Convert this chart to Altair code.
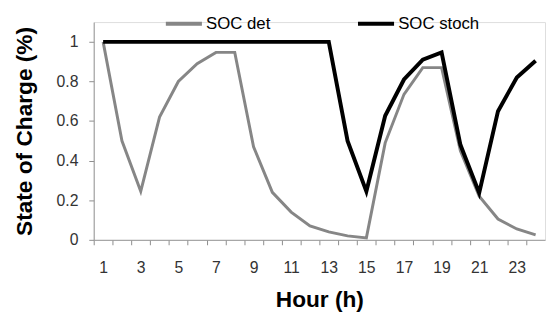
import altair as alt
import pandas as pd

hours = list(range(1, 25))
soc_det = [1.0, 0.50, 0.245, 0.62, 0.80, 0.89, 0.947, 0.947, 0.47, 0.24,
           0.14, 0.07, 0.04, 0.02, 0.01, 0.49, 0.735, 0.87, 0.87, 0.45,
           0.22, 0.105, 0.055, 0.025]
soc_stoch = [1.0, 1.0, 1.0, 1.0, 1.0, 1.0, 1.0, 1.0, 1.0, 1.0,
             1.0, 1.0, 1.0, 0.50, 0.245, 0.627, 0.81, 0.91, 0.947, 0.48,
             0.237, 0.65, 0.82, 0.905]
series_names = ["SOC det", "SOC stoch"]
series_colors = ["#868686", "#000000"]
x_label_values = list(range(1, 25))
y_ticks = [0, 0.2, 0.4, 0.6, 0.8, 1.0]

df = pd.DataFrame({
    "hour": hours * 2,
    "soc": soc_det + soc_stoch,
    "series": [series_names[0]] * 24 + [series_names[1]] * 24,
})

FONT = "Liberation Sans"

x_enc = alt.X(
    "hour:Q",
    scale=alt.Scale(domain=[0.5, 24.5], nice=False, zero=False),
    axis=alt.Axis(
        values=x_label_values,
        labelExpr="datum.value % 2 == 1 ? datum.label : ''",
        tickOffset=-9.54,
        labelOffset=9.54,
        tickSize=5,
        tickColor="#8c8c8c",
        domainColor="#999999",
        labelFontSize=16,
        labelColor="#333333",
        labelPadding=15,
        labelFont=FONT,
        title="Hour (h)",
        titleFont=FONT,
        titleFontSize=23,
        titleFontWeight="bold",
        titleColor="#000000",
        titlePadding=14,
        grid=False,
    ),
)
y_enc = alt.Y(
    "soc:Q",
    scale=alt.Scale(domain=[0, 1.1], nice=False),
    axis=alt.Axis(
        values=y_ticks,
        format="~g",
        tickSize=5,
        tickColor="#8c8c8c",
        domainColor="#999999",
        labelFontSize=16,
        labelColor="#333333",
        labelPadding=11,
        labelFont=FONT,
        title="State of Charge (%)",
        titleFont=FONT,
        titleFontSize=23,
        titleFontWeight="bold",
        titleColor="#000000",
        titlePadding=20,
        grid=False,
    ),
)
color_enc = alt.Color(
    "series:N",
    scale=alt.Scale(domain=series_names, range=series_colors),
    legend=alt.Legend(
        title=None,
        orient="none",
        direction="horizontal",
        legendX=71,
        legendY=-19,
        symbolType="stroke",
        symbolSize=1340,
        symbolStrokeWidth=4,
        labelFont=FONT,
        labelFontSize=17,
        labelColor="#000000",
        labelOffset=2,
        columnPadding=80,
    ),
)

base = alt.Chart(df).encode(x=x_enc, y=y_enc, color=color_enc)
det = base.transform_filter(alt.datum.series == series_names[0]).mark_line(strokeWidth=3)
stoch = base.transform_filter(alt.datum.series == series_names[1]).mark_line(strokeWidth=4)

chart = (
    alt.layer(det, stoch)
    .properties(
        width=458,
        height=221,
        autosize=alt.AutoSizeParams(type="none"),
        padding={"left": 87, "top": 12, "right": 1, "bottom": 75},
    )
    .configure_view(stroke=None)
    .configure(background="white")
)

chart.save("out.html", embed_options={"renderer": "svg", "actions": False})
